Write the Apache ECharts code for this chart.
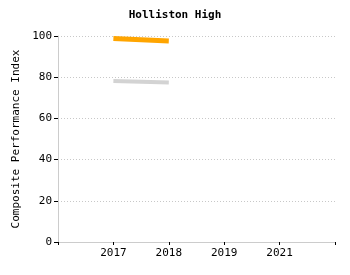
<!DOCTYPE html>
<html>
<head>
<meta charset="utf-8">
<script src="https://cdn.jsdelivr.net/npm/echarts@6/dist/echarts.min.js"></script>
<style>html,body{margin:0;padding:0;background:#fff}#main{width:350px;height:275px}</style>
</head>
<body>
<div id="main"></div>
<script>
var chart = echarts.init(document.getElementById('main'));

// categories (blank ends pad the axis like the original)
var years = ['', '2017', '2018', '2019', '2021', ''];
var highValues = [null, 98.8, 97.6, null, null, null];
var stateValues = [null, 78.2, 77.4, null, null, null];
var yTicks = [0, 20, 40, 60, 80, 100];

var mono = 'DejaVu Sans Mono';

var option = {
    backgroundColor: '#ffffff',
    animation: false,
    title: {
        text: 'Holliston High',
        left: 'center',
        top: 5,
        textStyle: { fontFamily: mono, fontSize: 11, fontWeight: 'bold', color: '#000' }
    },
    grid: { left: 58, right: 15, top: 36, bottom: 33 },
    xAxis: {
        type: 'category',
        data: years,
        boundaryGap: false,
        axisLine: { lineStyle: { color: '#cccccc' } },
        axisTick: { show: true, length: 3, interval: 0, lineStyle: { color: '#000' } },
        axisLabel: { interval: 0, fontFamily: mono, fontSize: 11, color: '#000', margin: 6 },
        splitLine: { show: false }
    },
    yAxis: {
        type: 'value',
        min: yTicks[0],
        max: yTicks[yTicks.length - 1],
        interval: 20,
        name: 'Composite Performance Index',
        nameLocation: 'middle',
        nameGap: 35,
        nameTextStyle: { fontFamily: mono, fontSize: 11, color: '#000' },
        axisLine: { show: true, lineStyle: { color: '#cccccc' } },
        axisTick: { show: true, length: 4, lineStyle: { color: '#000' } },
        axisLabel: { fontFamily: mono, fontSize: 11, color: '#000', margin: 6 },
        splitLine: { show: true, lineStyle: { color: '#c8c8c8', type: [1, 2] } }
    },
    series: [
        {
            name: 'State',
            type: 'line',
            data: stateValues,
            showSymbol: false,
            symbol: 'none',
            lineStyle: { color: '#d3d3d3', width: 4 }
        },
        {
            name: 'Holliston High',
            type: 'line',
            data: highValues,
            showSymbol: false,
            symbol: 'none',
            lineStyle: { color: '#ffa500', width: 5 }
        }
    ]
};

chart.setOption(option);
</script>
</body>
</html>
